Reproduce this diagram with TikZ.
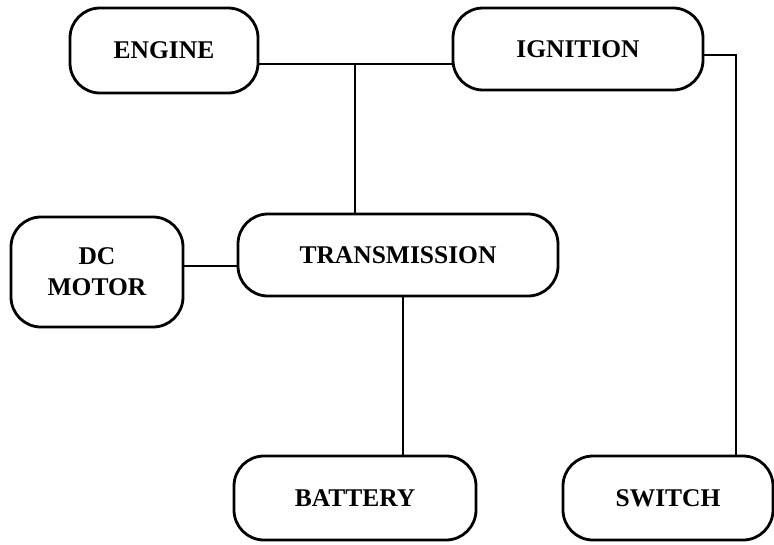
\documentclass[tikz,border=0pt]{standalone}
\usepackage{fontspec}
\setmainfont{Liberation Serif}
\begin{document}
\begin{tikzpicture}[x=1pt,y=-1pt,
  box/.style={draw,line width=2.8pt,rounded corners=30pt,inner sep=0pt,align=center,
    font=\fontsize{25.5}{31}\selectfont\bfseries},
  wire/.style={line width=2.8pt}]
\useasboundingbox (0,0) rectangle (774,544);
\node[box,minimum width=188pt,minimum height=85pt] (engine) at (164,50.5) {ENGINE};
\node[box,minimum width=250pt,minimum height=82pt] (ignition) at (578,49) {IGNITION};
\node[box,minimum width=320pt,minimum height=82pt] (trans) at (398,255) {TRANSMISSION};
\node[box,minimum width=172pt,minimum height=110pt] (dcmotor) at (97,272) {DC\\MOTOR};
\node[box,minimum width=242pt,minimum height=84pt] (battery) at (355,498) {BATTERY};
\node[box,minimum width=210pt,minimum height=84pt] (switch) at (668,498) {SWITCH};
\coordinate (j) at (355,64);
\coordinate (k) at (736,55);
\coordinate (m) at (200,266);
\coordinate (b) at (403,380);
\draw[wire] (engine.east |- j) -- (ignition.west |- j);
\draw[wire] (j) -- (trans.north -| j);
\draw[wire] (ignition.east |- k) -- (k) -- (switch.north -| k);
\draw[wire] (dcmotor.east |- m) -- (trans.west |- m);
\draw[wire] (trans.south -| b) -- (battery.north -| b);
\end{tikzpicture}
\end{document}
